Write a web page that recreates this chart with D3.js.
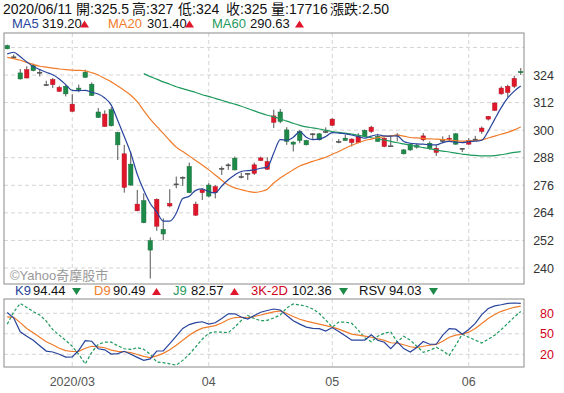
<!DOCTYPE html>
<html>
<head>
<meta charset="utf-8">
<script src="https://cdn.jsdelivr.net/npm/d3@7"></script>
<style>
    body { margin: 0; background: #fff; }
    svg { display: block; font-family: "Liberation Sans", Arial, "Noto Sans CJK TC", sans-serif; }
</style>
</head>
<body>
<script>
// Daily candles, 2020/02/14 .. 2020/06/11
const open = [336.8, 331.9, 324.9, 322.7, 328.2, 325.2, 319.8, 319.8, 316.9, 319.1,
    308.2, 318.3, 325.2, 320.0, 307.9, 301.6, 308.9, 299.0, 275.1, 285.2,
    264.9, 269.3, 251.9, 258.2, 256.8, 267.0, 276.6, 279.5, 284.2, 263.0,
    272.8, 276.1, 272.8, 283.4, 284.9, 287.8, 279.8, 281.2, 281.2, 286.8,
    283.0, 303.4, 307.9, 300.1, 294.8, 299.4, 295.5, 298.4, 298.4, 299.4,
    302.1, 295.1, 296.5, 294.6, 294.6, 299.9, 299.4, 297.3, 292.9, 293.2,
    297.9, 291.4, 293.9, 293.3, 295.8, 294.3, 290.3, 295.5, 296.0, 298.4,
    292.1, 293.9, 296.1, 299.4, 304.8, 308.6, 315.8, 316.4, 319.1, 325.5];
const high = [337.2, 332.9, 326.6, 327.8, 328.9, 326.6, 321.5, 322.7, 319.3, 319.8,
    315.7, 319.8, 326.3, 320.8, 309.6, 308.6, 310.0, 299.3, 293.6, 290.7,
    274.0, 272.5, 253.3, 270.3, 261.6, 274.3, 279.8, 279.9, 285.9, 268.9,
    274.7, 276.9, 276.1, 284.2, 285.6, 288.5, 281.5, 281.3, 285.9, 288.5,
    288.2, 308.9, 309.2, 301.3, 295.1, 300.1, 295.8, 298.7, 298.8, 301.2,
    305.2, 296.1, 297.9, 296.4, 298.7, 300.3, 301.9, 298.4, 296.8, 297.9,
    298.7, 291.8, 294.3, 294.0, 298.7, 295.1, 293.6, 297.3, 297.9, 298.7,
    292.2, 296.5, 297.5, 301.6, 306.2, 312.2, 319.1, 319.8, 323.7, 327.0];
const low = [335.2, 331.0, 322.0, 322.5, 325.6, 323.4, 319.3, 318.3, 316.6, 314.7,
    308.0, 316.5, 322.8, 314.9, 305.3, 301.4, 301.6, 287.0, 272.8, 275.8,
    264.7, 259.5, 235.4, 256.2, 252.1, 266.4, 274.7, 275.7, 272.6, 262.6,
    269.6, 270.8, 270.3, 280.5, 282.7, 282.5, 279.0, 278.3, 280.5, 286.5,
    282.7, 300.9, 303.0, 293.6, 290.7, 294.3, 293.4, 296.1, 295.5, 298.7,
    301.9, 294.3, 295.3, 292.9, 294.3, 297.0, 298.7, 294.9, 292.6, 293.2,
    295.1, 289.4, 291.0, 292.0, 295.1, 291.4, 288.8, 294.3, 295.1, 293.6,
    290.5, 293.6, 295.5, 298.4, 304.2, 308.3, 315.4, 314.4, 318.3, 324.0];
const close = [335.4, 331.9, 322.3, 326.3, 325.9, 325.2, 319.8, 322.0, 318.6, 315.8,
    311.3, 317.6, 323.0, 315.1, 305.5, 307.0, 301.9, 293.6, 289.7, 276.1,
    267.8, 259.7, 247.8, 269.9, 254.8, 268.1, 276.6, 279.5, 272.8, 267.8,
    274.0, 271.3, 275.4, 283.4, 284.9, 282.7, 279.8, 281.2, 284.9, 287.9,
    286.3, 306.2, 303.8, 295.1, 293.9, 295.5, 293.6, 298.4, 295.8, 299.4,
    304.8, 295.1, 295.5, 296.1, 297.3, 297.3, 301.3, 295.1, 296.5, 293.2,
    297.9, 289.7, 291.4, 292.6, 297.5, 292.1, 292.1, 295.5, 296.5, 293.9,
    292.1, 295.5, 296.1, 300.9, 306.0, 311.8, 318.3, 319.1, 322.5, 325.0];

// moving averages
const ma5 = [333.2, 333.9, 331.9, 329.7, 327.7, 326.4, 325.2, 324.1, 322.3, 319.8,
    317.3, 317.2, 317.3, 316.5, 315.7, 314.0, 310.9, 304.2, 297.2, 290.0,
    280.8, 273.8, 268.1, 264.4, 260.4, 260.4, 263.8, 270.3, 271.2, 273.8,
    274.4, 273.2, 272.7, 275.7, 278.4, 280.5, 282.0, 282.4, 282.7, 283.4,
    283.9, 290.0, 295.9, 295.6, 296.9, 299.3, 296.9, 295.9, 296.1, 297.2,
    298.9, 298.7, 298.4, 297.9, 297.2, 296.5, 297.4, 298.0, 297.5, 297.4,
    297.5, 295.1, 294.3, 294.0, 293.9, 293.6, 293.6, 294.6, 295.1, 294.8,
    294.6, 295.0, 295.2, 295.6, 299.6, 304.8, 309.8, 314.0, 317.0, 319.2];
const ma20 = [331.7, 331.1, 330.4, 329.5, 328.6, 327.8, 327.4, 327.0, 326.6, 326.3,
    326.1, 326.0, 325.8, 325.0, 324.0, 322.5, 321.0, 319.2, 317.3, 315.2,
    312.4, 308.5, 304.8, 301.6, 298.6, 295.5, 292.6, 290.7, 288.8, 286.8,
    284.8, 282.7, 280.5, 278.2, 276.1, 274.9, 274.1, 273.4, 272.9, 273.3,
    274.3, 277.0, 279.2, 281.0, 282.8, 284.4, 285.4, 286.4, 287.3, 288.2,
    289.5, 290.7, 292.1, 293.4, 294.5, 295.5, 296.1, 296.7, 297.2, 297.5,
    297.8, 297.4, 296.8, 296.6, 296.4, 296.2, 296.1, 295.9, 295.7, 295.4,
    295.2, 295.3, 295.5, 295.8, 296.6, 297.4, 298.2, 299.0, 300.1, 301.4];
const ma60 = [null, null, null, null, null, null, null, null, null, null,
    null, null, null, null, null, null, null, null, null, null,
    null, 324.6, 323.3, 322.2, 321.0, 320.0, 318.9, 318.1, 317.2, 316.4,
    315.4, 314.7, 313.8, 313.0, 312.1, 311.3, 310.4, 309.4, 308.4, 307.4,
    306.5, 305.8, 304.9, 303.9, 303.0, 302.1, 301.4, 301.0, 300.5, 299.9,
    299.4, 299.0, 298.7, 298.3, 297.8, 297.3, 296.7, 296.2, 295.7, 295.1,
    294.5, 294.0, 293.5, 292.9, 292.4, 291.9, 291.4, 290.9, 290.5, 290.0,
    289.6, 289.2, 289.0, 288.8, 288.8, 288.9, 289.3, 289.8, 290.3, 290.63];

// KD indicator
const k9 = [81.2, 73.1, 52.9, 46.5, 40.6, 32.5, 24.7, 23.4, 20.0, 16.0,
    16.3, 25.9, 39.9, 39.1, 28.1, 26.6, 20.3, 21.0, 24.4, 20.0,
    15.5, 11.1, 13.3, 24.8, 24.8, 35.5, 46.5, 57.9, 63.5, 66.4,
    67.6, 64.2, 66.1, 72.3, 79.3, 79.3, 74.5, 71.6, 76.8, 81.5,
    84.1, 86.3, 84.9, 76.8, 69.1, 64.2, 59.8, 58.0, 57.5, 53.9,
    59.1, 53.2, 47.3, 40.6, 40.6, 40.6, 48.7, 40.6, 37.7, 28.4,
    38.1, 28.4, 23.4, 29.9, 38.8, 34.7, 34.7, 48.0, 57.6, 56.8,
    49.5, 56.4, 65.3, 78.2, 87.1, 90.8, 92.5, 94.5, 95.1, 94.44];
const d9 = [74.8, 74.1, 66.4, 57.9, 51.7, 45.0, 38.4, 34.0, 28.8, 25.4,
    24.1, 24.4, 28.8, 31.8, 31.0, 29.6, 26.2, 24.4, 23.7, 22.5,
    19.7, 17.0, 15.3, 17.8, 21.4, 26.6, 33.2, 40.6, 48.0, 53.9,
    58.3, 60.1, 62.0, 65.7, 70.9, 73.8, 74.2, 73.5, 75.3, 77.5,
    80.0, 82.2, 83.4, 79.7, 75.3, 71.3, 68.6, 66.4, 64.2, 62.0,
    59.8, 56.8, 53.2, 49.5, 48.0, 46.5, 45.0, 42.8, 40.3, 36.9,
    36.4, 34.0, 31.0, 29.9, 31.8, 33.2, 34.4, 39.1, 45.0, 48.0,
    49.5, 52.4, 57.9, 65.0, 72.3, 78.2, 82.9, 86.0, 88.8, 90.49];
const j9 = [64.2, 81.9, 94.5, 88.6, 82.4, 77.5, 68.6, 56.1, 48.0, 40.2,
    31.8, 20.0, 6.0, 22.9, 34.7, 37.7, 37.7, 32.5, 28.1, 27.1,
    29.6, 27.3, 20.0, 8.6, 7.7, 6.0, 4.0, 11.1, 20.0, 31.0,
    42.1, 50.9, 52.7, 52.4, 51.5, 59.8, 69.4, 76.8, 72.3, 69.1,
    69.7, 73.1, 77.5, 87.8, 93.7, 92.2, 90.3, 86.3, 79.7, 70.1,
    59.8, 67.2, 67.2, 65.3, 55.4, 44.3, 38.4, 46.5, 50.9, 52.7,
    38.1, 46.5, 40.6, 31.8, 22.9, 25.9, 30.3, 25.1, 18.5, 33.3,
    49.5, 45.0, 40.6, 36.6, 42.1, 48.0, 56.1, 65.3, 74.5, 82.57];

// axis ticks
const monthIdx = [10, 31, 50, 71];
const monthLabels = ['2020/03', '04', '05', '06'];
const priceGrid = [240, 252, 264, 276, 288, 300, 312, 324, 336];
const priceLabels = [240, 252, 264, 276, 288, 300, 312, 324];
const kdTicks = [20, 50, 80];

const W = 564, H = 393;
const MAIN = { left: 4, right: 524, top: 33, bottom: 284 };
const SUB = { left: 4, right: 524, top: 299, bottom: 367 };

const RED = '#e0162b', GREEN = '#1e8a4a', BLUE = '#27449c', ORANGE = '#f07c2a', TEAL = '#1f9a5e';

const SVG = d3.select('body').append('svg')
    .attr('width', W)
    .attr('height', H);

const x = d3.scaleBand()
    .domain(d3.range(close.length))
    .range([MAIN.left, MAIN.right])
    .paddingInner(0.32)
    .paddingOuter(0.16);
const cx = i => x(i) + x.bandwidth() / 2;

const y = d3.scaleLinear().domain([240, 324]).range([268, 75]);
const yk = d3.scaleLinear().domain([20, 80]).range([354.3, 313.3]);

// clip areas
const defs = SVG.append('defs');
defs.append('clipPath').attr('id', 'clip-main').append('rect')
    .attr('x', MAIN.left).attr('y', MAIN.top)
    .attr('width', MAIN.right - MAIN.left).attr('height', MAIN.bottom - MAIN.top);
defs.append('clipPath').attr('id', 'clip-sub').append('rect')
    .attr('x', SUB.left).attr('y', SUB.top)
    .attr('width', SUB.right - SUB.left).attr('height', SUB.bottom - SUB.top);

// grid
const grid = SVG.append('g')
    .attr('stroke', '#d4d4d4')
    .attr('stroke-dasharray', '4,3');
grid.selectAll('.hg')
    .data(priceGrid)
    .enter()
    .append('line')
    .attr('x1', MAIN.left).attr('x2', MAIN.right)
    .attr('y1', d => y(d)).attr('y2', d => y(d));
grid.selectAll('.kg')
    .data(kdTicks)
    .enter()
    .append('line')
    .attr('x1', SUB.left).attr('x2', SUB.right)
    .attr('y1', d => yk(d)).attr('y2', d => yk(d));
[MAIN, SUB].forEach(p => {
    grid.append('g').selectAll('line')
        .data(monthIdx)
        .enter()
        .append('line')
        .attr('x1', d => cx(d)).attr('x2', d => cx(d))
        .attr('y1', p.top).attr('y2', p.bottom);
});

// candles
const candleColor = i => close[i] > open[i] ? RED : (close[i] < open[i] ? GREEN : '#555');
const candles = SVG.append('g').attr('clip-path', 'url(#clip-main)')
    .selectAll('g')
    .data(d3.range(close.length))
    .enter()
    .append('g');
candles.append('line')
    .attr('x1', i => cx(i)).attr('x2', i => cx(i))
    .attr('y1', i => y(high[i])).attr('y2', i => y(low[i]))
    .attr('stroke', '#555')
    .attr('stroke-width', 1);
candles.append('rect')
    .attr('x', i => x(i))
    .attr('y', i => y(Math.max(open[i], close[i])))
    .attr('width', x.bandwidth())
    .attr('height', i => Math.max(1, Math.abs(y(open[i]) - y(close[i]))))
    .attr('fill', i => candleColor(i))
    .attr('stroke', i => d3.color(candleColor(i)).darker(0.6))
    .attr('stroke-width', 0.5);

// MA lines
const maLine = d3.line()
    .defined(d => d != null)
    .x((d, i) => cx(i))
    .y(d => y(d))
    .curve(d3.curveMonotoneX);
const maG = SVG.append('g').attr('clip-path', 'url(#clip-main)').attr('fill', 'none').attr('stroke-width', 1.2);
maG.append('path').datum(ma60).attr('d', maLine).attr('stroke', TEAL);
maG.append('path').datum(ma20).attr('d', maLine).attr('stroke', ORANGE);
maG.append('path').datum(ma5).attr('d', maLine).attr('stroke', BLUE);

// KD lines
const kdLine = d3.line()
    .x((d, i) => cx(i))
    .y(d => yk(d));
const kdG = SVG.append('g').attr('clip-path', 'url(#clip-sub)').attr('fill', 'none').attr('stroke-width', 1.2);
kdG.append('path').datum(j9).attr('d', kdLine).attr('stroke', TEAL).attr('stroke-dasharray', '3,2');
kdG.append('path').datum(d9).attr('d', kdLine).attr('stroke', ORANGE);
kdG.append('path').datum(k9).attr('d', kdLine).attr('stroke', BLUE);

// frames
[MAIN, SUB].forEach(p => {
    SVG.append('rect')
        .attr('x', p.left).attr('y', p.top)
        .attr('width', p.right - p.left).attr('height', p.bottom - p.top)
        .attr('fill', 'none')
        .attr('stroke', '#8a8a8a')
        .attr('stroke-width', 1);
});

// axes
const priceAxis = SVG.append('g')
    .attr('transform', `translate(554, 0)`)
    .call(d3.axisRight(y).tickValues(priceLabels).tickSize(0).tickPadding(0));
priceAxis.select('.domain').remove();
priceAxis.selectAll('text')
    .attr('x', 0)
    .attr('text-anchor', 'end')
    .style('font-size', '12.5px')
    .style('font-family', 'inherit')
    .attr('fill', '#333');

const kdAxis = SVG.append('g')
    .attr('transform', `translate(554, 0)`)
    .call(d3.axisRight(yk).tickValues(kdTicks).tickSize(0).tickPadding(0));
kdAxis.select('.domain').remove();
kdAxis.selectAll('text')
    .attr('x', 0)
    .attr('text-anchor', 'end')
    .style('font-size', '12.5px')
    .style('font-family', 'inherit')
    .attr('fill', '#d0021b');

const dateAxis = SVG.append('g')
    .attr('transform', `translate(0, ${SUB.bottom})`)
    .call(d3.axisBottom(x).tickValues(monthIdx).tickFormat((d, i) => monthLabels[i]).tickSize(0).tickPadding(10));
dateAxis.select('.domain').remove();
dateAxis.selectAll('text')
    .style('font-size', '12.5px')
    .style('font-family', 'inherit')
    .attr('fill', '#555');

// legends
function label(px, py, str, color, size) {
    SVG.append('text')
        .attr('x', px).attr('y', py)
        .attr('fill', color)
        .style('font-size', size + 'px')
        .text(str);
}
function tri(px, py, up) {
    const pts = up
        ? [[px, py], [px + 4.5, py - 7], [px + 9, py]]
        : [[px, py - 7], [px + 9, py - 7], [px + 4.5, py]];
    SVG.append('polygon')
        .attr('points', pts.map(p => p.join(',')).join(' '))
        .attr('fill', up ? RED : GREEN);
}

const headItems = [
    [3, '2020/06/11'], [76, '開:325.5'], [132, '高:327'], [178, '低:324'],
    [226, '收:325'], [271, '量:17716'], [330, '漲跌:2.50']
];
headItems.forEach(d => label(d[0], 14, d[1], '#111', 14));

label(12, 27.5, 'MA5', BLUE, 13);
label(42, 27.5, '319.20', '#111', 13);
tri(80, 27.5, true);
label(108, 27.5, 'MA20', ORANGE, 13);
label(147, 27.5, '301.40', '#111', 13);
tri(185, 27.5, true);
label(212, 27.5, 'MA60', TEAL, 13);
label(250, 27.5, '290.63', '#111', 13);
tri(295, 27.5, true);

label(10, 280, '©Yahoo奇摩股市', '#999', 13);

label(15, 295, 'K9', BLUE, 13);
label(33, 295, '94.44', '#111', 13);
tri(72, 295, false);
label(94, 295, 'D9', ORANGE, 13);
label(113, 295, '90.49', '#111', 13);
tri(152, 295, true);
label(173, 295, 'J9', TEAL, 13);
label(191, 295, '82.57', '#111', 13);
tri(230, 295, true);
label(251, 295, '3K-2D', '#d0021b', 13);
label(292, 295, '102.36', '#111', 13);
tri(339, 295, false);
label(359, 295, 'RSV', '#111', 13);
label(389, 295, '94.03', '#111', 13);
tri(429, 295, false);
</script>
</body>
</html>
